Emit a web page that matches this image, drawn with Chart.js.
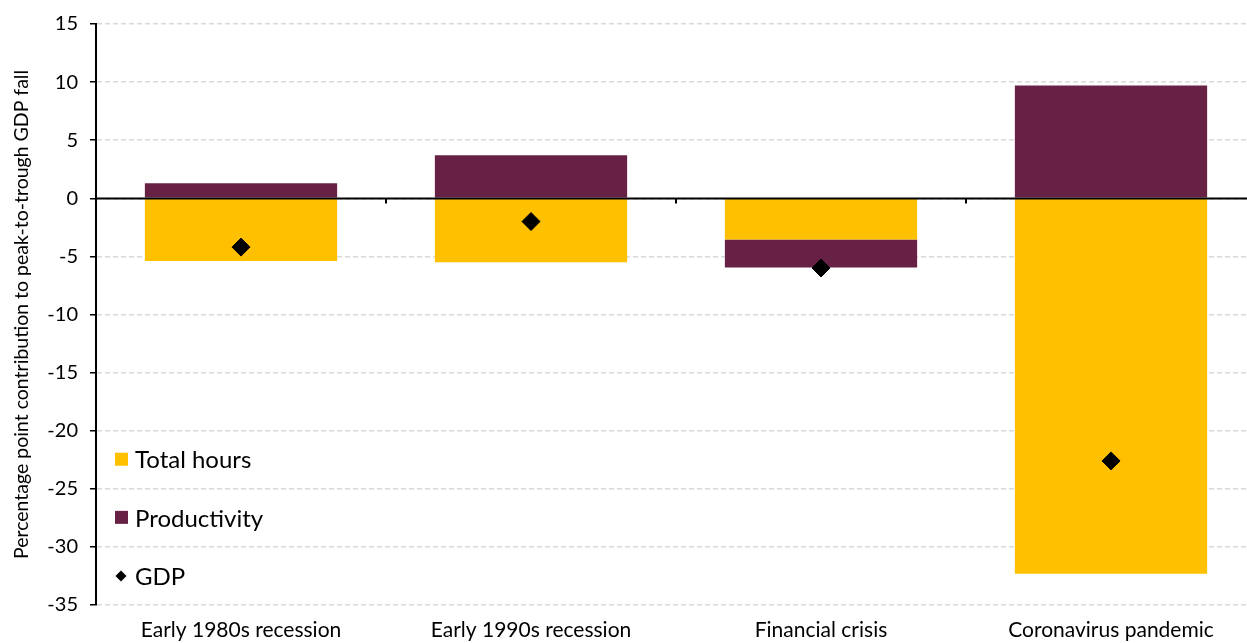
<!DOCTYPE html>
<html>
<head>
<meta charset="utf-8">
<script src="https://cdn.jsdelivr.net/npm/chart.js@4/dist/chart.umd.min.js"></script>
<style>
  html, body { margin: 0; padding: 0; background: #fff; overflow: hidden; }
  #wrap { width: 1266px; height: 643px; }
</style>
</head>
<body>
<div id="wrap"><canvas id="decompChart" width="1266" height="643"></canvas></div>
<script>
(function () {
  // Peak-to-trough decomposition, percentage points
  const categories = ["Early 1980s recession", "Early 1990s recession", "Financial crisis", "Coronavirus pandemic"];
  const totalHours = [-5.4, -5.5, -3.55, -32.3];
  const productivity = [1.3, 3.7, -2.4, 9.7];
  const gdp = [-4.2, -2.0, -6.0, -22.6];
  const yTicks = [15, 10, 5, 0, -5, -10, -15, -20, -25, -30, -35];

  const YELLOW = "#FFC000";
  const PURPLE = "#672145";
  const FONT = "Lato, 'Open Sans', sans-serif";

  // zero line over the bars, with small ticks between categories
  const zeroLine = {
    id: "zeroLine",
    afterDatasetsDraw(chart) {
      const { ctx, chartArea } = chart;
      const y0 = Math.round(chart.scales.y.getPixelForValue(0)) + 0.5;
      ctx.save();
      ctx.strokeStyle = "#000";
      ctx.lineWidth = 2;
      ctx.beginPath();
      ctx.moveTo(chartArea.left, y0);
      ctx.lineTo(chartArea.right, y0);
      ctx.stroke();
      const step = (chartArea.right - chartArea.left) / categories.length;
      for (let i = 1; i < categories.length; i++) {
        const bx = Math.round(chartArea.left + i * step);
        ctx.beginPath();
        ctx.moveTo(bx, y0);
        ctx.lineTo(bx, y0 + 5);
        ctx.stroke();
      }
      ctx.restore();
    }
  };

  // legend drawn inside the plot, lower left, one row per gap between gridlines
  const insideLegend = {
    id: "insideLegend",
    afterDraw(chart) {
      const { ctx, chartArea } = chart;
      const y = chart.scales.y;
      const rows = [-22.5, -27.5, -32.5];
      const left = chartArea.left + 19;
      ctx.save();
      ctx.font = "24px " + FONT;
      ctx.textBaseline = "middle";
      chart.data.datasets.forEach((ds, i) => {
        const cy = y.getPixelForValue(rows[i]);
        if (ds.type === "line") {
          ctx.fillStyle = "#000";
          ctx.beginPath();
          ctx.moveTo(left + 6, cy - 5.5);
          ctx.lineTo(left + 11.5, cy);
          ctx.lineTo(left + 6, cy + 5.5);
          ctx.lineTo(left + 0.5, cy);
          ctx.closePath();
          ctx.fill();
        } else {
          ctx.fillStyle = ds.backgroundColor;
          ctx.fillRect(left, cy - 7, 13, 13);
        }
        ctx.fillStyle = "#000";
        ctx.fillText(ds.label, left + 20, cy + 1);
      });
      ctx.restore();
    }
  };

  const ctx = document.getElementById("decompChart").getContext("2d");
  new Chart(ctx, {
    type: "bar",
    data: {
      labels: categories,
      datasets: [
        {
          label: "Total hours",
          data: totalHours,
          backgroundColor: YELLOW,
          stack: "parts",
          barPercentage: 0.663,
          categoryPercentage: 1
        },
        {
          label: "Productivity",
          data: productivity,
          backgroundColor: PURPLE,
          stack: "parts",
          barPercentage: 0.663,
          categoryPercentage: 1
        },
        {
          type: "line",
          label: "GDP",
          data: gdp,
          stack: "gdp",
          order: -1,
          showLine: false,
          pointStyle: "rectRot",
          pointRadius: 9,
          pointBorderWidth: 1,
          pointBackgroundColor: "#000",
          pointBorderColor: "#000"
        }
      ]
    },
    options: {
      responsive: false,
      animation: false,
      layout: { padding: { top: 24, right: 0, bottom: 0, left: 0 } },
      plugins: {
        legend: { display: false },
        tooltip: { enabled: false }
      },
      scales: {
        x: {
          stacked: true,
          grid: { display: false },
          border: { display: false },
          ticks: {
            color: "#000",
            padding: 5,
            font: { family: FONT, size: 21 }
          },
          afterFit: scale => { scale.height = 38; }
        },
        y: {
          stacked: true,
          min: -35,
          max: 15,
          afterBuildTicks: scale => { scale.ticks = yTicks.map(v => ({ value: v })); },
          grid: {
            color: "#d9d9d9",
            lineWidth: 1.5,
            drawTicks: true,
            tickLength: 6,
            tickColor: "#000",
            tickWidth: 1.5
          },
          border: { display: true, color: "#000", width: 2, dash: [5, 3] },
          ticks: {
            color: "#000",
            padding: 12,
            font: { family: FONT, size: 20 }
          },
          title: {
            display: true,
            text: "Percentage point contribution to peak-to-trough GDP fall",
            color: "#000",
            font: { family: FONT, size: 19.5 },
            padding: { top: 10, bottom: 0 }
          },
          afterFit: scale => { scale.width = 96; }
        }
      }
    },
    plugins: [zeroLine, insideLegend]
  });
})();
</script>
</body>
</html>
